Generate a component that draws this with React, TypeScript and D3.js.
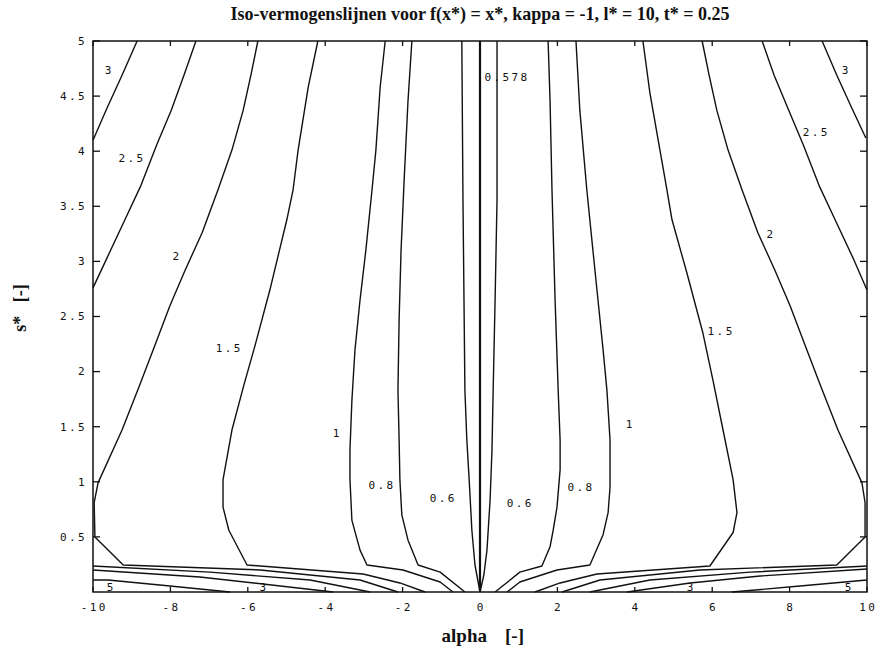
import React from 'react';
import * as d3 from 'd3';

type Pt = [number, number];

// Axis ticks
const alphaTicks = [-10, -8, -6, -4, -2, 0, 2, 4, 6, 8, 10];
const sTicks = [0.5, 1, 1.5, 2, 2.5, 3, 3.5, 4, 4.5, 5];
const sTickLabels = ['0.5', '1', '1.5', '2', '2.5', '3', '3.5', '4', '4.5', '5'];

// Iso-lines, [alpha, s*] vertices
const level3Left: Pt[] = [[-8.86, 5.0], [-9.25, 4.69], [-9.64, 4.39], [-10, 4.1]];
const level3Right: Pt[] = [[8.84, 5.0], [9.22, 4.69], [9.61, 4.39], [9.97, 4.12]];

const level25Left: Pt[] = [[-7.34, 5.0], [-7.65, 4.69], [-7.98, 4.37], [-8.35, 4.06], [-8.76, 3.69], [-9.2, 3.36], [-9.64, 3.03], [-10, 2.76]];
const level25Right: Pt[] = [[7.29, 5.0], [7.6, 4.69], [7.98, 4.37], [8.35, 4.06], [8.76, 3.69], [9.2, 3.36], [9.64, 3.03], [10, 2.74]];

const level2Left: Pt[] = [[-5.74, 5.0], [-5.92, 4.69], [-6.12, 4.37], [-6.41, 4.01], [-6.77, 3.65], [-7.18, 3.26], [-7.62, 2.92], [-8.01, 2.6], [-8.4, 2.24], [-8.79, 1.88], [-9.25, 1.47], [-9.87, 0.99], [-9.97, 0.81], [-9.95, 0.5], [-9.22, 0.245], [-5.68, 0.2], [-3.1, 0.109], [-2.12, 0]];
const level2Right: Pt[] = [[5.74, 5.0], [5.92, 4.69], [6.12, 4.37], [6.41, 4.01], [6.77, 3.65], [7.18, 3.26], [7.62, 2.92], [8.01, 2.6], [8.4, 2.24], [8.79, 1.88], [9.25, 1.47], [9.87, 0.99], [9.95, 0.81], [9.95, 0.5], [9.22, 0.245], [5.68, 0.2], [3.1, 0.109], [2.12, 0]];

const level15Left: Pt[] = [[-4.19, 5.0], [-4.44, 4.58], [-4.7, 4.01], [-4.83, 3.65], [-4.99, 3.38], [-5.43, 2.74], [-5.81, 2.24], [-6.1, 1.88], [-6.41, 1.47], [-6.64, 1.02], [-6.64, 0.77], [-6.49, 0.56], [-6.02, 0.245], [-3.02, 0.163], [-2.07, 0.082], [-1.42, 0]];
const level15Right: Pt[] = [[4.21, 5.0], [4.39, 4.53], [4.65, 4.01], [4.83, 3.65], [4.96, 3.38], [5.35, 2.89], [5.76, 2.35], [6.02, 1.92], [6.28, 1.47], [6.54, 1.02], [6.64, 0.72], [6.54, 0.54], [5.94, 0.236], [3.02, 0.163], [2.07, 0.082], [1.42, 0]];

const level1Left: Pt[] = [[-2.45, 5.0], [-2.58, 4.58], [-2.69, 4.01], [-2.79, 3.65], [-2.95, 3.1], [-3.1, 2.65], [-3.23, 2.2], [-3.31, 1.74], [-3.36, 1.29], [-3.36, 1.02], [-3.31, 0.65], [-3.1, 0.38], [-2.92, 0.245], [-1.99, 0.2], [-1.03, 0.091], [-0.7, 0]];
const level1Right: Pt[] = [[2.48, 5.0], [2.58, 4.37], [2.76, 3.65], [2.97, 2.92], [3.18, 2.2], [3.28, 1.83], [3.36, 1.38], [3.36, 0.95], [3.31, 0.72], [3.18, 0.52], [2.84, 0.245], [1.99, 0.2], [1.03, 0.091], [0.7, 0]];

const level08Left: Pt[] = [[-1.76, 5.0], [-1.86, 4.46], [-1.96, 3.74], [-2.04, 3.1], [-2.09, 2.47], [-2.12, 1.83], [-2.09, 1.38], [-2.07, 1.02], [-2.02, 0.7], [-1.86, 0.47], [-1.6, 0.245], [-1.03, 0.18], [-0.39, 0]];
const level08Right: Pt[] = [[1.76, 5.0], [1.81, 4.46], [1.86, 3.65], [1.94, 2.65], [2.02, 1.83], [2.07, 1.38], [2.07, 1.11], [1.99, 0.77], [1.89, 0.56], [1.81, 0.41], [1.6, 0.236], [1.03, 0.18], [0.39, 0]];

const level06Left: Pt[] = [[-0.47, 5.0], [-0.44, 3.56], [-0.39, 1.83], [-0.34, 1.38], [-0.28, 1.02], [-0.21, 0.56], [-0.13, 0.245], [0, 0]];
const level06Right: Pt[] = [[0.44, 5.0], [0.44, 3.56], [0.39, 2.65], [0.34, 1.83], [0.31, 1.29], [0.26, 0.83], [0.18, 0.38], [0.1, 0.154], [0, 0]];

const level0578: Pt[] = [[0, 5.0], [0, 0]];

const level25LowLeft: Pt[] = [[-10, 0.236], [-6.98, 0.18], [-4.39, 0.109], [-2.84, 0]];
const level25LowRight: Pt[] = [[10, 0.236], [6.98, 0.18], [4.39, 0.109], [2.84, 0]];
const level3LowLeft: Pt[] = [[-10, 0.2], [-7.24, 0.136], [-5.61, 0.073], [-3.8, 0]];
const level3LowRight: Pt[] = [[10, 0.209], [7.24, 0.145], [5.43, 0.082], [3.8, 0]];
const level5Left: Pt[] = [[-10, 0.109], [-9.61, 0.109], [-8.01, 0.054], [-6.46, 0]];
const level5Right: Pt[] = [[10, 0.109], [8.27, 0.054], [6.51, 0]];

const isoLines: Pt[][] = [
  level3Left, level3Right, level25Left, level25Right, level2Left, level2Right,
  level15Left, level15Right, level1Left, level1Right, level08Left, level08Right,
  level06Left, level06Right, level25LowLeft, level25LowRight, level3LowLeft,
  level3LowRight, level5Left, level5Right,
];

// Level labels: [text, alpha, s*]
const isoLabels: [string, number, number][] = [
  ['3', -9.61, 4.74], ['2.5', -9.02, 3.94], ['2', -7.86, 3.05], ['1.5', -6.51, 2.21],
  ['1', -3.72, 1.44], ['0.8', -2.56, 0.97], ['0.6', -0.98, 0.85],
  ['5', -9.56, 0.045], ['3', -5.61, 0.045],
  ['3', 9.43, 4.74], ['2.5', 8.66, 4.17], ['2', 7.49, 3.25], ['1.5', 6.2, 2.37],
  ['1', 3.85, 1.52], ['0.8', 2.58, 0.95], ['0.6', 1.01, 0.81],
  ['3', 5.43, 0.045], ['5', 9.51, 0.045],
];
const centerLabel: [string, number, number] = ['0.578', 0.7, 4.67];

const W = 876;
const H = 658;
const L = 93, R = 867, T = 41, B = 592;

const x = d3.scaleLinear().domain([-10, 10]).range([L, R]);
const y = d3.scaleLinear().domain([0, 5]).range([B, T]);
const line = d3.line<Pt>().x((d) => x(d[0])).y((d) => y(d[1]));

const monoFont = "'DejaVu Sans Mono', monospace";
const serifFont = "'Liberation Serif', 'Times New Roman', serif";

export default function App() {
  return (
    <svg
      width={W}
      height={H}
      viewBox={`0 0 ${W} ${H}`}
      style={{ position: 'absolute', left: 0, top: 0, background: '#fff' }}
    >
      <rect x={0} y={0} width={W} height={H} fill="#fff" />
      <text x={480} y={20} textAnchor="middle" fontFamily={serifFont} fontWeight="bold" fontSize={18} fill="#111">
        Iso-vermogenslijnen voor f(x*) = x*, kappa = -1, l* = 10, t* = 0.25
      </text>

      {/* iso-lines */}
      <g fill="none" stroke="#111" strokeWidth={1.4} strokeLinejoin="round">
        {isoLines.map((pts, i) => (
          <path key={i} d={line(pts) || ''} />
        ))}
        <path d={line(level0578) || ''} strokeWidth={2.2} />
      </g>

      {/* level labels */}
      <g fontFamily={monoFont} fontSize={11} fill="#111" style={{ letterSpacing: '2.4px' }}>
        {isoLabels.map(([t, a, s], i) => (
          <text key={i} x={x(a) + 1.2} y={y(s)} dy="0.35em" textAnchor="middle">{t}</text>
        ))}
        <text x={x(centerLabel[1])} y={y(centerLabel[2])} dy="0.35em" textAnchor="middle">{centerLabel[0]}</text>
      </g>

      {/* frame */}
      <rect x={L} y={T} width={R - L} height={B - T} fill="none" stroke="#111" strokeWidth={1.5} />

      {/* ticks */}
      <g stroke="#111" strokeWidth={1.3}>
        {sTicks.map((v) => (
          <g key={'s' + v}>
            <line x1={L} x2={L + 7} y1={y(v)} y2={y(v)} />
            <line x1={R} x2={R - 7} y1={y(v)} y2={y(v)} />
          </g>
        ))}
        {alphaTicks.map((v) => (
          <g key={'a' + v}>
            <line x1={x(v)} x2={x(v)} y1={B} y2={B - 5} />
            <line x1={x(v)} x2={x(v)} y1={T} y2={T + 5} />
          </g>
        ))}
      </g>

      {/* tick labels */}
      <g fontFamily={monoFont} fontSize={11} fill="#111" style={{ letterSpacing: '2.4px' }}>
        {sTicks.map((v, i) => (
          <text key={'sl' + v} x={L - 6} y={y(v)} dy="0.35em" textAnchor="end">{sTickLabels[i]}</text>
        ))}
        {alphaTicks.map((v) => (
          <text key={'al' + v} x={x(v) + 1.2} y={607} dy="0.35em" textAnchor="middle">{String(v)}</text>
        ))}
      </g>

      {/* axis titles */}
      <g fontFamily={serifFont} fontWeight="bold" fontSize={19} fill="#111">
        <text x={487} y={642} textAnchor="end">alpha</text>
        <text x={505} y={642} textAnchor="start">[-]</text>
      </g>
      <text
        transform={`translate(26, 308) rotate(-90)`}
        textAnchor="middle"
        fontFamily={serifFont}
        fontWeight="bold"
        fontSize={18}
        fill="#111"
      >
        s*{'\u00a0\u00a0\u00a0'}[-]
      </text>
    </svg>
  );
}
